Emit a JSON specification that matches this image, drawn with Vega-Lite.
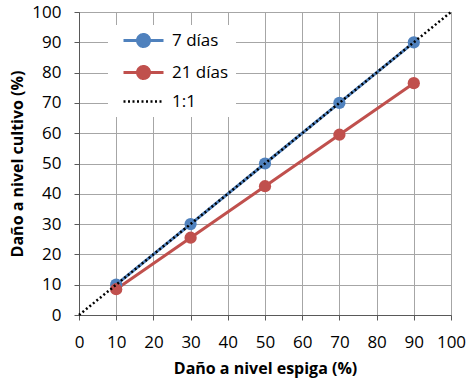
{
  "$schema": "https://vega.github.io/schema/vega-lite/v6.json",
  "width": 372,
  "height": 303,
  "autosize": "none",
  "padding": {"left": 79, "top": 12, "right": 22, "bottom": 65},
  "background": "white",
  "config": {
    "font": "Open Sans",
    "view": {"stroke": "#595959", "strokeWidth": 1},
    "axis": {
      "labelFont": "Open Sans",
      "labelFontSize": 17,
      "labelColor": "#000000",
      "titleFont": "Open Sans",
      "titleFontSize": 16,
      "titleFontWeight": "bold",
      "titleColor": "#000000",
      "domainColor": "#595959",
      "tickColor": "#595959",
      "tickSize": 5,
      "gridColor": "#a6a6a6",
      "gridOpacity": 1,
      "labelFlush": false
    }
  },
  "data": {
    "values": [
      {"x": 10, "y": 10, "serie": "7 días"},
      {"x": 30, "y": 30, "serie": "7 días"},
      {"x": 50, "y": 50, "serie": "7 días"},
      {"x": 70, "y": 70, "serie": "7 días"},
      {"x": 90, "y": 90, "serie": "7 días"},
      {"x": 10, "y": 8.5, "serie": "21 días"},
      {"x": 30, "y": 25.5, "serie": "21 días"},
      {"x": 50, "y": 42.5, "serie": "21 días"},
      {"x": 70, "y": 59.5, "serie": "21 días"},
      {"x": 90, "y": 76.5, "serie": "21 días"},
      {"x": 0, "y": 0, "serie": "1:1"},
      {"x": 100, "y": 100, "serie": "1:1"}
    ]
  },
  "encoding": {
    "x": {
      "field": "x",
      "type": "quantitative",
      "scale": {"domain": [0, 100], "nice": false},
      "axis": {
        "title": "Daño a nivel espiga (%)",
        "values": [0, 10, 20, 30, 40, 50, 60, 70, 80, 90, 100],
        "labelPadding": 14,
        "titlePadding": 10
      }
    },
    "y": {
      "field": "y",
      "type": "quantitative",
      "scale": {"domain": [0, 100], "nice": false},
      "axis": {
        "title": "Daño a nivel cultivo (%)",
        "values": [0, 10, 20, 30, 40, 50, 60, 70, 80, 90, 100],
        "labelPadding": 13,
        "titlePadding": 6
      }
    },
    "color": {
      "field": "serie",
      "type": "nominal",
      "scale": {
        "domain": ["7 días", "21 días", "1:1"],
        "range": ["#4F81BD", "#C0504D", "#000000"]
      },
      "legend": {
        "orient": "none",
        "legendX": 29,
        "legendY": 13,
        "title": null,
        "fillColor": "white",
        "padding": 7,
        "labelFont": "Open Sans",
        "labelFontSize": 17,
        "labelColor": "#000000",
        "labelOffset": 40,
        "rowPadding": 7,
        "symbolSize": 400,
        "symbolStrokeWidth": 3,
        "symbolType": "M0,0H4M1.4,0A0.6,0.6 0 1,1 2.6,0A0.6,0.6 0 1,1 1.4,0Z",
        "encode": {
          "symbols": {
            "update": {
              "shape": {"signal": "datum.value === '1:1' ? 'M0,0H4' : 'M0,0H4M1.4,0A0.6,0.6 0 1,1 2.6,0A0.6,0.6 0 1,1 1.4,0Z'"},
              "fill": {"signal": "datum.value === '1:1' ? 'transparent' : scale('color', datum.value)"},
              "stroke": {"signal": "scale('color', datum.value)"},
              "strokeDash": {"signal": "datum.value === '1:1' ? [2, 2.5] : [1, 0]"},
              "strokeWidth": {"signal": "datum.value === '1:1' ? 2.5 : 3"},
              "opacity": {"value": 1}
            }
          }
        }
      }
    }
  },
  "layer": [
    {
      "transform": [{"filter": "datum.serie !== '1:1'"}],
      "mark": {"type": "line", "strokeWidth": 3, "point": {"filled": true, "size": 150, "opacity": 1}}
    },
    {
      "transform": [{"filter": "datum.serie === '1:1'"}],
      "mark": {"type": "line", "strokeWidth": 2.5, "strokeDash": [2, 2.5]}
    }
  ]
}
